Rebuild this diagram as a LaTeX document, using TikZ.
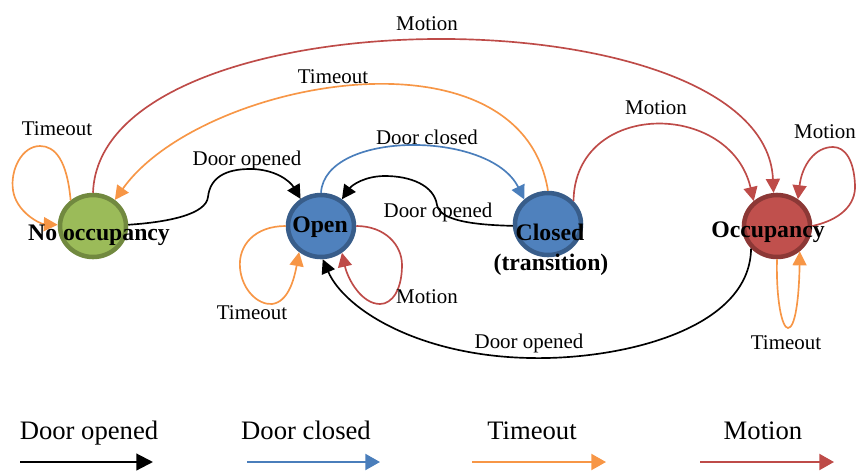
\documentclass[tikz,border=0pt]{standalone}
\usepackage{fontspec}
\setmainfont{Liberation Serif}
\usetikzlibrary{arrows.meta,shapes.geometric}
\definecolor{greenfill}{HTML}{9BBB59}
\definecolor{greenline}{HTML}{71893F}
\definecolor{bluefill}{HTML}{4F81BD}
\definecolor{blueline}{HTML}{385D8A}
\definecolor{redfill}{HTML}{C0504D}
\definecolor{redline}{HTML}{8C3836}
\definecolor{ablue}{HTML}{4A7EBB}
\definecolor{aorange}{HTML}{F79646}
\definecolor{ared}{HTML}{BE4B48}
\begin{document}
\begin{tikzpicture}[x=0.75pt,y=-0.75pt,
  state/.style={ellipse,minimum width=49.5pt,minimum height=46.5pt,inner sep=0pt,line width=3.4pt},
  stname/.style={font=\fontsize{17.8}{21}\selectfont\bfseries,anchor=base,inner sep=0pt},
  elabel/.style={font=\fontsize{15.7}{19}\selectfont,inner sep=0pt},
  conn/.style={line width=1.25pt,-{Triangle[length=10.5pt,width=10.5pt]}},
  opened/.style={conn,black},
  closedc/.style={conn,ablue},
  timeout/.style={conn,aorange},
  motion/.style={conn,ared},
  legtxt/.style={font=\fontsize{20}{24}\selectfont,anchor=base,inner sep=0pt},
  legline/.style={line width=1.6pt,-{Triangle[length=11pt,width=12pt]}}
]
\useasboundingbox (0,0) rectangle (858,472);

% states
\node[state,fill=greenfill,draw=greenline] (noocc) at (93,226) {};
\node[state,fill=bluefill,draw=blueline] (open) at (321,226) {};
\node[state,fill=bluefill,draw=blueline] (closed) at (548,224) {};
\node[state,fill=redfill,draw=redline] (occ) at (777,226) {};

% No occupancy: timeout loop
\draw[timeout] (noocc.131) .. controls (67,160) and (55,146) .. (40,146)
  .. controls (22,146) and (10,170) .. (13,190)
  .. controls (16,212) and (40,224) .. (noocc.178);
% No occupancy -> Open
\draw[opened] (noocc.2) .. controls (170,222) and (206,214) .. (208,197)
  .. controls (210,178) and (225,169) .. (250,169)
  .. controls (275,169) and (290,181) .. (open.127);
% Open -> Closed
\draw[closedc] (open.90) .. controls (325,130) and (490,130) .. (closed.134);
% Closed -> Open
\draw[opened] (closed.183) .. controls (480,225) and (440,222) .. (437,205)
  .. controls (434,185) and (410,176) .. (385,176)
  .. controls (365,176) and (352,185) .. (open.52);
% Open: timeout loop
\draw[timeout] (open.180) .. controls (255,226) and (238,245) .. (240,268)
  .. controls (242,290) and (258,305) .. (272,304)
  .. controls (288,302) and (294,280) .. (open.230);
% Open: motion loop
\draw[motion] (open.0) .. controls (385,226) and (402,245) .. (402,265)
  .. controls (402,290) and (392,304) .. (380,304)
  .. controls (362,304) and (348,280) .. (open.308);
% Occupancy -> Open
\draw[opened] (occ.221) .. controls (750,330) and (620,360) .. (530,358)
  .. controls (420,356) and (345,310) .. (open.273);
% Closed -> Occupancy
\draw[motion] (closed.42) .. controls (575,100) and (730,100) .. (occ.133);
% No occupancy -> Occupancy
\draw[motion] (noocc.90) .. controls (100,-10) and (765,-10) .. (occ.96);
% Closed -> No occupancy
\draw[timeout] (closed.90) .. controls (520,20) and (200,80) .. (noocc.50);
% Occupancy: motion loop
\draw[motion] (occ.0) .. controls (840,220) and (856,205) .. (855,185)
  .. controls (854,160) and (845,147) .. (833,147)
  .. controls (815,147) and (802,165) .. (occ.52);
% Occupancy: timeout loop
\draw[timeout] (occ.270) .. controls (776,300) and (782,328) .. (788,328)
  .. controls (795,328) and (799,300) .. (occ.312);

% state names
\node[stname] (tnoocc) at (99,240) {No occupancy};
\node[stname] (topen) at (320,232) {Open};
\node[stname] (tclosed) at (550,240) {Closed};
\node[stname] (ttrans) at (551,270) {(transition)};
\node[stname] (tocc) at (768,237) {Occupancy};

% transition labels
\node[elabel] (l1) at (57,129) {Timeout};
\node[elabel] (l2) at (247,160) {Door opened};
\node[elabel] (l3) at (427,137) {Door closed};
\node[elabel] (l4) at (438,212) {Door opened};
\node[elabel] (l5) at (252,313) {Timeout};
\node[elabel] (l6) at (427,297) {Motion};
\node[elabel] (l7) at (529,343) {Door opened};
\node[elabel] (l8) at (656,108) {Motion};
\node[elabel] (l9) at (427,24) {Motion};
\node[elabel] (l10) at (333,77) {Timeout};
\node[elabel] (l11) at (825,132) {Motion};
\node[elabel] (l12) at (786,343) {Timeout};

% legend
\node[legtxt] (kopen) at (89,439) {Door opened};
\node[legtxt] (kclosed) at (306,439) {Door closed};
\node[legtxt] (ktime) at (532,439) {Timeout};
\node[legtxt] (kmotion) at (763,439) {Motion};
\coordinate (ka1) at (20,462);  \coordinate (kb1) at (153,462);
\coordinate (ka2) at (247,462); \coordinate (kb2) at (380,462);
\coordinate (ka3) at (472,462); \coordinate (kb3) at (606,462);
\coordinate (ka4) at (700,462); \coordinate (kb4) at (834,462);
\draw[legline,black,-{Triangle[length=12.5pt,width=12.5pt]}] (ka1) -- (kb1);
\draw[legline,ablue] (ka2) -- (kb2);
\draw[legline,aorange] (ka3) -- (kb3);
\draw[legline,ared] (ka4) -- (kb4);
\end{tikzpicture}
\end{document}
